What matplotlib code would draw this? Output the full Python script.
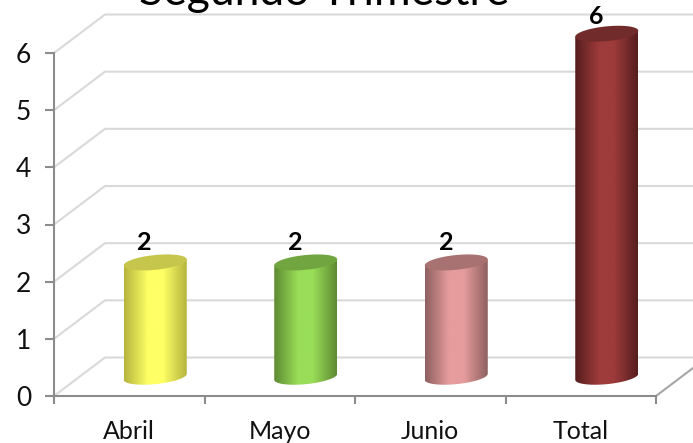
import numpy as np
import matplotlib
matplotlib.use("Agg")
import matplotlib.pyplot as plt
from matplotlib.colors import LinearSegmentedColormap
from matplotlib.patches import Polygon

categories = ["Abril", "Mayo", "Junio", "Total"]
values = [2, 2, 2, 6]
title = "Segundo Trimestre"
yticks = [0, 1, 2, 3, 4, 5, 6]

# edge / centre / top colours of each cylinder
edge_colors = ["#B5B53E", "#5E8A32", "#8E6060", "#561D1D"]
mid_colors = ["#FFFF66", "#99DD58", "#E69C9C", "#9E3B3B"]
top_colors = ["#C6C64C", "#70A540", "#A97272", "#722B2B"]

W, H = 693, 443
X0, X1, Y0, Y1 = 54, 656, 396, 53  # plot box in pixels

plt.rcParams["font.family"] = ["Lato", "DejaVu Sans"]

fig = plt.figure(figsize=(W / 100, H / 100), dpi=100, facecolor="white")
ax = fig.add_axes([X0 / W, 1 - Y0 / H, (X1 - X0) / W, (Y0 - Y1) / H])
ax.set_xlim(0, len(categories))
ax.set_ylim(0, 6)

px_x = (X1 - X0) / len(categories)   # pixels for one category
px_y = (Y0 - Y1) / 6                 # pixels for one unit
depth_x = 51 / px_x
depth_y = 38.5 / px_y
x_right = (W - X0) / px_x

grid_col = "#D9D9D9"
axis_col = "#8C8C8C"

# walls
for v in yticks:
    ax.plot([0, depth_x, x_right], [v, v + depth_y, v + depth_y], color=grid_col,
            lw=1.5, clip_on=False, zorder=1, solid_joinstyle="miter")
ax.plot([len(categories), len(categories) + depth_x], [0, depth_y], color="#A6A6A6",
        lw=1.5, clip_on=False, zorder=1)

# cylinders
half_w = 31.5 / px_x
b = 7.4 / px_y
s = 3.0 / px_y
t = np.linspace(0, 2 * np.pi, 121)
for i, val in enumerate(values):
    cx = i + 0.5 + depth_x / 2 + 0.5 / px_x
    base = depth_y / 2
    top = base + val

    # left edge, lower rim left to right, right edge
    lower = np.linspace(np.pi, 2 * np.pi, 60)
    body_x = np.r_[cx - half_w, cx + half_w * np.cos(lower), cx + half_w]
    body_y = np.r_[top - s, base + s * np.cos(lower) + b * np.sin(lower), top + s]
    body = Polygon(np.c_[body_x, body_y], closed=True, fc="none", ec="none", transform=ax.transData)
    ax.add_patch(body)

    cmap = LinearSegmentedColormap.from_list(
        "c", [(0, edge_colors[i]), (0.38, mid_colors[i]), (0.62, mid_colors[i]), (1, edge_colors[i])])
    im = ax.imshow(np.linspace(0, 1, 128).reshape(1, -1), cmap=cmap, aspect="auto", vmin=0, vmax=1,
                   extent=[cx - half_w, cx + half_w, base - b - s, top + s], zorder=2)
    im.set_clip_path(body)
    im.set_clip_box(fig.bbox)

    ex = cx + half_w * np.cos(t)
    ey = top + s * np.cos(t) + b * np.sin(t)
    ax.add_patch(Polygon(np.c_[ex, ey], closed=True, fc=top_colors[i], ec="none",
                         clip_on=False, zorder=3))

    # the tall bar's label sits a little closer to its top
    lift = 10 if val == max(values) else 12.5
    ax.text(cx - 10.5 / px_x, top + lift / px_y, str(val), ha="center", va="baseline", fontsize=18,
            fontweight="bold", color="black", clip_on=False, zorder=4)

ax.set_xlim(0, len(categories))
ax.set_ylim(0, 6)

# axes and labels
for side in ["top", "right"]:
    ax.spines[side].set_visible(False)
for side in ["left", "bottom"]:
    ax.spines[side].set_color(axis_col)
    ax.spines[side].set_linewidth(1.5)
    ax.spines[side].set_zorder(5)
ax.patch.set_alpha(0)

ax.set_yticks(yticks)
ax.tick_params(axis="y", length=6.5, width=1.5, color=axis_col, labelsize=19, pad=10, labelcolor="#111111")
ax.set_xticks(range(len(categories) + 1))
ax.set_xticklabels([])
ax.tick_params(axis="x", which="major", length=6, width=1.5, color=axis_col)
ax.set_xticks(np.arange(len(categories)) + 0.5, categories, minor=True)
ax.tick_params(axis="x", which="minor", length=0, labelsize=18, pad=17, labelcolor="#111111")

ax.text((324 - X0) / px_x, (Y0 - 5) / px_y, title, ha="center", va="baseline", fontsize=32,
        color="black", clip_on=False)

fig.savefig("out.png", dpi=100)
